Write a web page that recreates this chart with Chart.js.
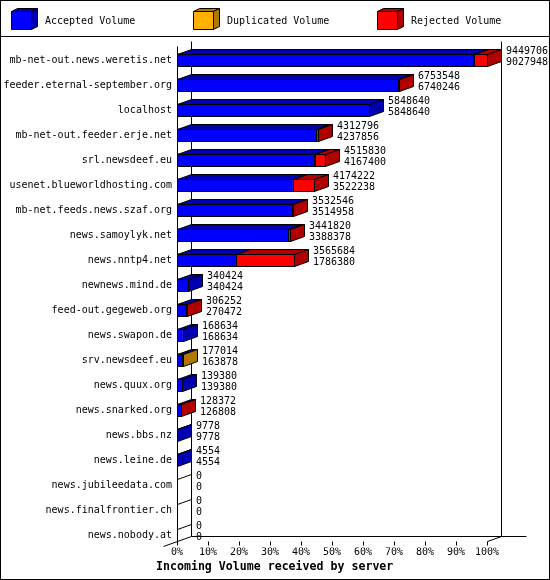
<!DOCTYPE html>
<html>
<head>
<meta charset="utf-8">
<script src="https://cdn.jsdelivr.net/npm/chart.js@4.4.1/dist/chart.umd.min.js"></script>
<style>
  html, body { margin: 0; padding: 0; background: #fff; }
</style>
</head>
<body>
<canvas id="chart" width="550" height="580"></canvas>
<script>
const servers = [
  "mb-net-out.news.weretis.net",
  "feeder.eternal-september.org",
  "localhost",
  "mb-net-out.feeder.erje.net",
  "srl.newsdeef.eu",
  "usenet.blueworldhosting.com",
  "mb-net.feeds.news.szaf.org",
  "news.samoylyk.net",
  "news.nntp4.net",
  "newnews.mind.de",
  "feed-out.gegeweb.org",
  "news.swapon.de",
  "srv.newsdeef.eu",
  "news.quux.org",
  "news.snarked.org",
  "news.bbs.nz",
  "news.leine.de",
  "news.jubileedata.com",
  "news.finalfrontier.ch",
  "news.nobody.at",
];
const accepted = [9027948, 6740246, 5848640, 4237856, 4167400, 3522238, 3514958, 3388378, 1786380, 340424,
  270472, 168634, 163878, 139380, 126808, 9778, 4554, 0, 0, 0];
const duplicated = [30000, 0, 0, 0, 35000, 0, 0, 0, 0, 0,
  0, 0, 13136, 0, 0, 0, 0, 0, 0, 0];
const rejected = [391758, 13302, 0, 74940, 313430, 651984, 17588, 53442, 1779304, 0,
  35780, 0, 0, 0, 1564, 0, 0, 0, 0, 0];
const seriesNames = ["Accepted Volume", "Duplicated Volume", "Rejected Volume"];
const axisTitle = "Incoming Volume received by server";

const frontColors = ["#0000ff", "#ffb000", "#ff0000"];
const darkColors = ["#0000b0", "#b07800", "#b00000"];
const mono = '"DejaVu Sans Mono", "Liberation Mono", monospace';
const DX = 14, DY = -5; // depth of the 3d effect

const series = [accepted, duplicated, rejected];
const totals = servers.map((_, i) => accepted[i] + duplicated[i] + rejected[i]);
const maxTotal = Math.max(...totals);
const toPct = (arr) => arr.map((v) => (v / maxTotal) * 100);

const poly = (ctx, pts, fill) => {
  ctx.beginPath();
  pts.forEach(([x, y], k) => (k ? ctx.lineTo(x + 0.5, y + 0.5) : ctx.moveTo(x + 0.5, y + 0.5)));
  ctx.closePath();
  if (fill) {
    ctx.fillStyle = fill;
    ctx.fill();
  }
  ctx.stroke();
};
const line = (ctx, x1, y1, x2, y2) => {
  ctx.beginPath();
  ctx.moveTo(x1 + 0.5, y1 + 0.5);
  ctx.lineTo(x2 + 0.5, y2 + 0.5);
  ctx.stroke();
};

const rowBox = (chart) => {
  const first = chart.getDatasetMeta(0).data[0];
  const last = chart.getDatasetMeta(0).data[servers.length - 1];
  return { top: Math.round(first.y) - 14, bottom: Math.round(last.y) + 6 };
};

const threeD = {
  id: "threeD",
  beforeDraw(chart) {
    const ctx = chart.ctx;
    const { width, height } = chart;
    ctx.save();
    ctx.fillStyle = "#fff";
    ctx.fillRect(0, 0, width, height);
    ctx.strokeStyle = "#000";
    ctx.lineWidth = 1;
    ctx.strokeRect(0.5, 0.5, width - 1, height - 1);
    line(ctx, 0, 36, width - 1, 36);

    // legend with little 3d boxes
    const legendX = [11, 193, 377];
    ctx.font = "10px " + mono;
    ctx.textBaseline = "middle";
    seriesNames.forEach((name, d) => {
      const x = legendX[d];
      poly(ctx, [[x, 11], [x + 6, 8], [x + 26, 8], [x + 20, 11]], darkColors[d]);
      poly(ctx, [[x + 20, 11], [x + 26, 8], [x + 26, 26], [x + 20, 29]], darkColors[d]);
      poly(ctx, [[x, 11], [x + 20, 11], [x + 20, 29], [x, 29]], frontColors[d]);
      ctx.fillStyle = "#000";
      ctx.fillText(name, x + 34, 21);
    });

    // title under the axis
    ctx.font = "bold 11.6px " + mono;
    ctx.fillText(axisTitle, 156, 567);
    ctx.restore();
  },
  beforeDatasetsDraw(chart) {
    const ctx = chart.ctx;
    const L = Math.round(chart.chartArea.left);
    const R = Math.round(chart.chartArea.right);
    const { top, bottom } = rowBox(chart);
    ctx.save();
    ctx.strokeStyle = "#000";
    ctx.lineWidth = 1;
    line(ctx, L + DX, top + DY, L + DX, bottom + DY);
    line(ctx, R + DX, top + DY, R + DX, bottom + DY);
    line(ctx, L + DX, bottom + DY, R + DX + 25, bottom + DY);
    line(ctx, L - DX, bottom - DY, L + DX, bottom + DY);
    line(ctx, R, bottom, R + DX, bottom + DY);
    const xs = chart.scales.x;
    xs.ticks.forEach((t) => {
      const px = Math.round(xs.getPixelForValue(t.value));
      line(ctx, px, bottom, px, bottom + 4);
    });
    ctx.restore();
  },
  afterDatasetsDraw(chart) {
    const ctx = chart.ctx;
    const L = Math.round(chart.chartArea.left);
    const { top, bottom } = rowBox(chart);
    const metas = series.map((_, d) => chart.getDatasetMeta(d));
    ctx.save();
    ctx.strokeStyle = "#000";
    ctx.lineWidth = 1;
    ctx.font = "10px " + mono;
    ctx.textBaseline = "middle";

    servers.forEach((name, i) => {
      const yc = Math.round(metas[0].data[i].y);
      const y0 = yc - 6, y1 = yc + 6;
      const segs = [];
      series.forEach((vals, d) => {
        if (vals[i] > 0) {
          const el = metas[d].data[i];
          segs.push({ a: Math.round(el.base), b: Math.round(el.x), d });
        }
      });
      let end = L;
      if (segs.length) {
        segs.forEach((s) => {
          poly(ctx, [[s.a, y0], [s.a + DX, y0 + DY], [s.b + DX, y0 + DY], [s.b, y0]], darkColors[s.d]);
        });
        const lastSeg = segs[segs.length - 1];
        end = lastSeg.b;
        poly(ctx, [[end, y0], [end + DX, y0 + DY], [end + DX, y1 + DY], [end, y1]], darkColors[lastSeg.d]);
        poly(ctx, [[L, y0], [end, y0], [end, y1], [L, y1]]);
        segs.slice(0, -1).forEach((s) => line(ctx, s.b, y0, s.b, y1));
      } else {
        line(ctx, L, y0, L + DX, y0 + DY);
      }
      ctx.fillStyle = "#000";
      ctx.fillText(String(totals[i]), end + DX + 5, yc - 9);
      ctx.fillText(String(accepted[i]), end + DX + 5, yc + 2);
    });

    line(ctx, L, top, L, bottom);
    ctx.restore();
  },
};

new Chart(document.getElementById("chart"), {
  type: "bar",
  data: {
    labels: servers,
    datasets: seriesNames.map((name, d) => ({
      label: name,
      data: toPct(series[d]),
      backgroundColor: frontColors[d],
      borderWidth: 0,
      barThickness: 12,
    })),
  },
  options: {
    indexAxis: "y",
    responsive: false,
    devicePixelRatio: 1,
    animation: false,
    layout: { padding: { top: 47.5, right: 63, bottom: 2.5, left: 0 } },
    plugins: {
      legend: { display: false },
      tooltip: { enabled: false },
    },
    scales: {
      x: {
        stacked: true,
        min: 0,
        max: 100,
        grid: { display: false, drawTicks: false },
        border: { display: false },
        ticks: {
          stepSize: 10,
          padding: -1,
          color: "#000",
          maxRotation: 0,
          autoSkip: false,
          font: { family: mono, size: 10 },
          callback: (v) => v + "%",
        },
        afterFit: (s) => {
          s.height = 30;
        },
      },
      y: {
        stacked: true,
        grid: { display: false, drawTicks: false },
        border: { display: false },
        ticks: {
          padding: 5,
          color: "#000",
          autoSkip: false,
          font: { family: mono, size: 10 },
        },
        afterFit: (s) => {
          s.width = 177;
        },
      },
    },
  },
  plugins: [threeD],
});
</script>
</body>
</html>
